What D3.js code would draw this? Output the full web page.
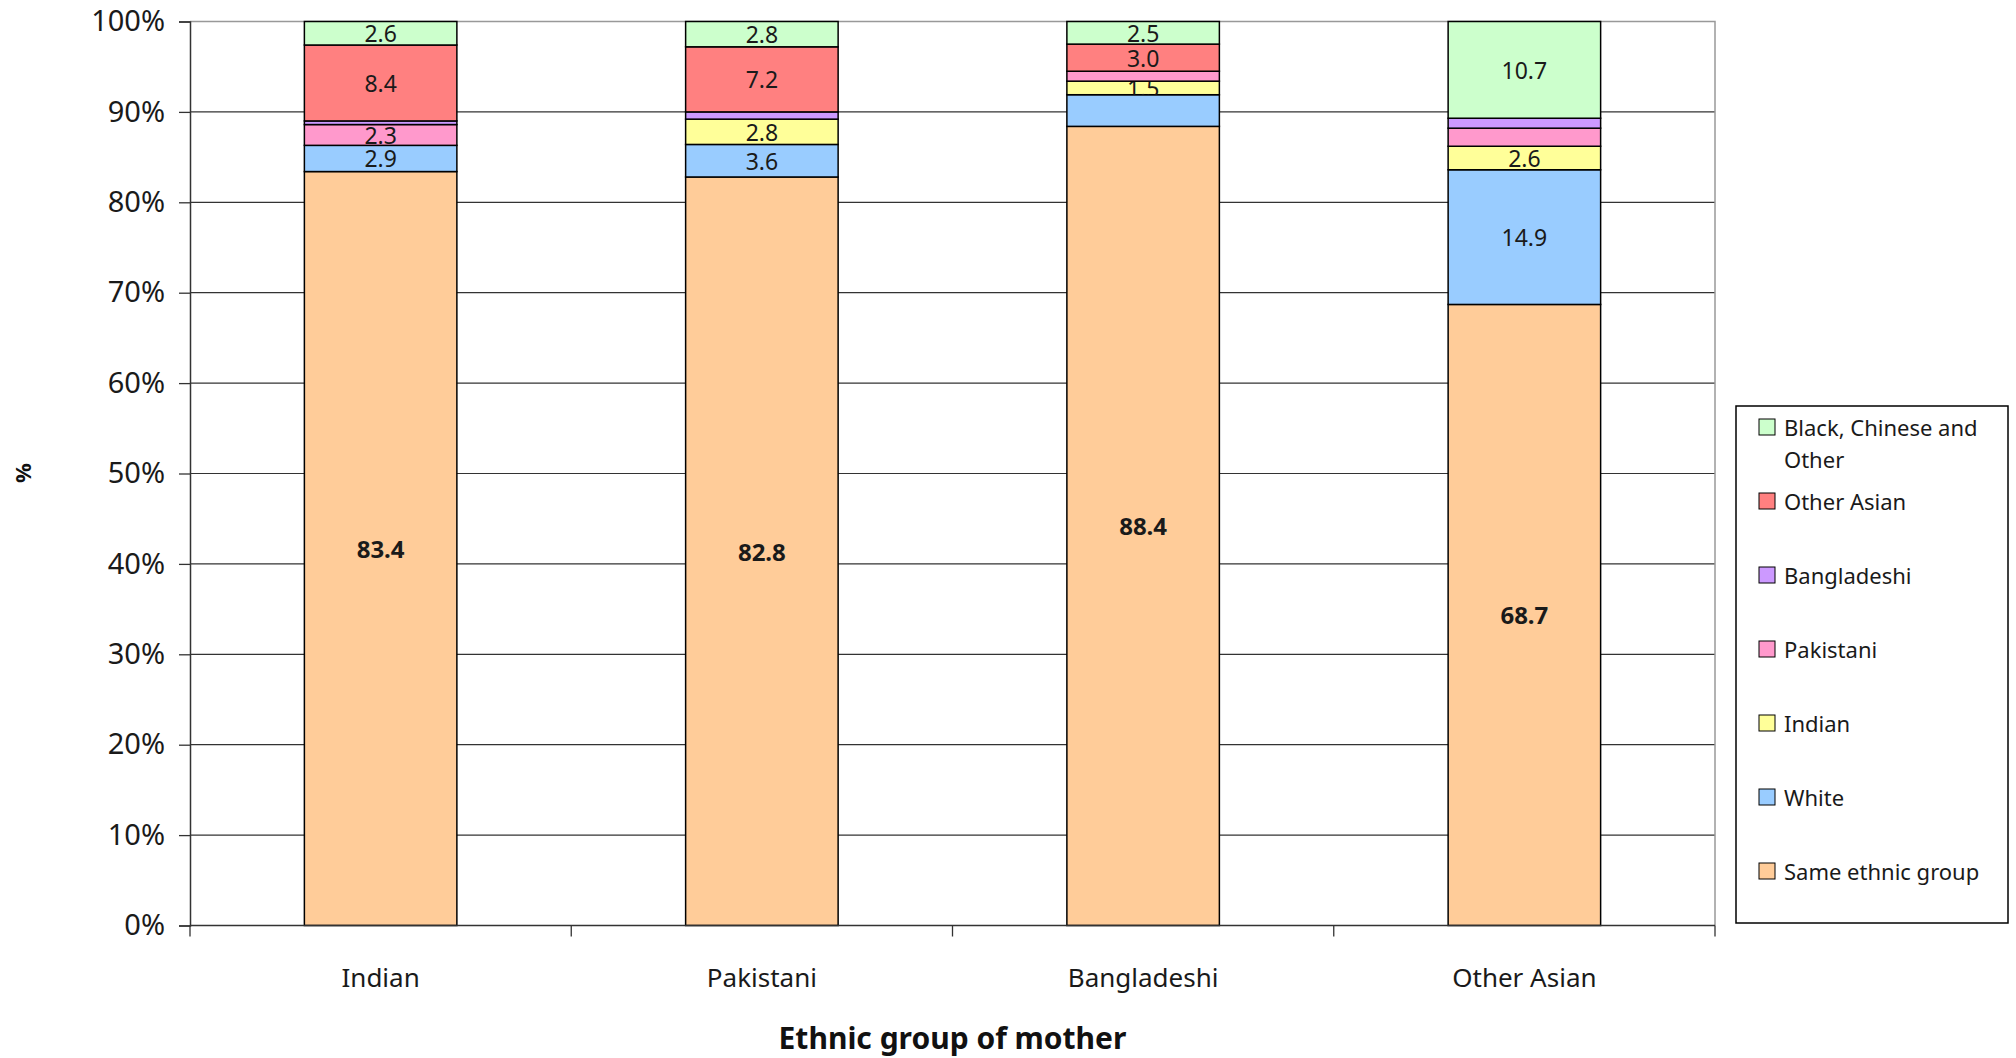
<!DOCTYPE html>
<html>
<head>
<meta charset="utf-8">
<script src="https://cdn.jsdelivr.net/npm/d3@7"></script>
<style>
  html, body { margin: 0; padding: 0; background: #fff; overflow: hidden; }
  svg { display: block; font-family: "Noto Sans", "Open Sans", sans-serif; }
</style>
</head>
<body>
<svg id="chart" width="2016" height="1058" viewBox="0 0 2016 1058"></svg>
<script>
// Ethnic group of mother (x categories)
const groups = ["Indian", "Pakistani", "Bangladeshi", "Other Asian"];

// Ethnic group of father, % of births, per mother group
const sameGroup         = [83.4, 82.8, 88.4, 68.7];
const white             = [2.9, 3.6, 3.5, 14.9];
const indian            = [0, 2.8, 1.5, 2.6];
const pakistani         = [2.3, 0, 1.1, 2.0];
const bangladeshi       = [0.4, 0.8, 0, 1.1];
const otherAsian        = [8.4, 7.2, 3.0, 0];
const blackChineseOther = [2.6, 2.8, 2.5, 10.7];

// Which segments carry a printed value
const shownSame   = [true, true, true, true];
const shownWhite  = [true, true, false, true];
const shownInd    = [false, true, true, true];
const shownPak    = [true, false, false, false];
const shownBang   = [false, false, false, false];
const shownOA     = [true, true, true, false];
const shownBCO    = [true, true, true, true];

const seriesNames = ["Same ethnic group", "White", "Indian", "Pakistani", "Bangladeshi", "Other Asian", "Black, Chinese and Other"];
const seriesValues = [sameGroup, white, indian, pakistani, bangladeshi, otherAsian, blackChineseOther];
const seriesShown = [shownSame, shownWhite, shownInd, shownPak, shownBang, shownOA, shownBCO];
const seriesColors = ["#FFCC99", "#99CCFF", "#FFFF99", "#FF99CC", "#CC99FF", "#FF8080", "#CCFFCC"];

const yTicks = [0, 10, 20, 30, 40, 50, 60, 70, 80, 90, 100];

const svg = d3.select("#chart");
const plot = { left: 190, right: 1715, top: 21.5, bottom: 925.5 };

const x = d3.scaleBand().domain(groups).range([plot.left, plot.right])
  .paddingInner(0.6).paddingOuter(0.3);
const y = d3.scaleLinear().domain([0, 100]).range([plot.bottom, plot.top]);

// Gridlines
svg.append("g").selectAll("line").data(yTicks.filter(d => d > 0 && d < 100)).join("line")
  .attr("x1", plot.left).attr("x2", plot.right)
  .attr("y1", d => y(d)).attr("y2", d => y(d))
  .attr("stroke", "#333").attr("stroke-width", 1.2);

// Plot area border (top and right)
svg.append("path")
  .attr("d", `M${plot.left},${y(100)}H${plot.right}V${y(0)}`)
  .attr("fill", "none").attr("stroke", "#999").attr("stroke-width", 1.5);

// Stack the series
const rows = groups.map((g, i) => {
  const r = { group: g };
  seriesNames.forEach((s, k) => { r[s] = seriesValues[k][i]; });
  return r;
});
const stacked = d3.stack().keys(seriesNames)(rows);

const defs = svg.append("defs");
const barsG = svg.append("g");

stacked.forEach((layer, k) => {
  const lg = barsG.append("g");
  layer.forEach((seg, i) => {
    const v = seriesValues[k][i];
    if (v <= 0) return;
    const x0 = x(groups[i]);
    const w = x.bandwidth();
    const yTop = y(seg[1]);
    const h = y(seg[0]) - y(seg[1]);
    lg.append("rect")
      .attr("x", x0).attr("y", yTop).attr("width", w).attr("height", h)
      .attr("fill", seriesColors[k]).attr("stroke", "#000").attr("stroke-width", 1.5);
    if (seriesShown[k][i]) {
      const id = `clip-${k}-${i}`;
      defs.append("clipPath").attr("id", id).append("rect")
        .attr("x", x0).attr("y", yTop).attr("width", w).attr("height", h);
      const bold = k === 0;
      lg.append("text")
        .attr("clip-path", `url(#${id})`)
        .attr("x", x0 + w / 2).attr("y", y((seg[0] + seg[1]) / 2))
        .attr("text-anchor", "middle").attr("dominant-baseline", "central")
        .attr("font-size", bold ? 24 : 23)
        .attr("font-weight", bold ? "bold" : "normal")
        .attr("fill", "#1a1a1a")
        .text(v.toFixed(1));
    }
  });
});

// Y axis
const yAxis = d3.axisLeft(y).tickValues(yTicks).tickSize(11).tickPadding(14)
  .tickFormat(d => d + "%");
const yg = svg.append("g").attr("transform", `translate(${plot.left},0)`).call(yAxis);
yg.select(".domain").attr("stroke", "#333").attr("stroke-width", 1.5);
yg.selectAll(".tick line").attr("stroke", "#333").attr("stroke-width", 1.3);
yg.selectAll(".tick text").attr("font-size", 29).attr("fill", "#1a1a1a")
  .attr("font-family", "Noto Sans, sans-serif");

// X axis baseline with ticks between categories
const xg = svg.append("g");
xg.append("line").attr("x1", plot.left).attr("x2", plot.right)
  .attr("y1", y(0)).attr("y2", y(0)).attr("stroke", "#333").attr("stroke-width", 1.5);
const bounds = d3.range(groups.length + 1).map(i => plot.left + i * x.step());
xg.selectAll("line.tk").data(bounds).join("line").attr("class", "tk")
  .attr("x1", d => d).attr("x2", d => d)
  .attr("y1", y(0)).attr("y2", y(0) + 11)
  .attr("stroke", "#333").attr("stroke-width", 1.3);
xg.selectAll("text").data(groups).join("text")
  .attr("x", d => x(d) + x.bandwidth() / 2).attr("y", 977)
  .attr("dominant-baseline", "central")
  .attr("text-anchor", "middle").attr("font-size", 26).attr("fill", "#1a1a1a")
  .text(d => d);

// Axis titles
svg.append("text").attr("x", (plot.left + plot.right) / 2).attr("y", 1037)
  .attr("dominant-baseline", "central")
  .attr("text-anchor", "middle").attr("font-size", 30).attr("font-weight", "bold")
  .attr("fill", "#111").text("Ethnic group of mother");
svg.append("text").attr("transform", "translate(22,473) rotate(-90)")
  .attr("text-anchor", "middle").attr("dominant-baseline", "central")
  .attr("font-size", 22).attr("font-weight", "bold").attr("fill", "#111").text("%");

// Legend (top entry first)
const legend = svg.append("g");
legend.append("rect").attr("x", 1736).attr("y", 406).attr("width", 272).attr("height", 517)
  .attr("fill", "#fff").attr("stroke", "#000").attr("stroke-width", 1.5);
const legendOrder = d3.range(seriesNames.length).reverse();
legendOrder.forEach((k, j) => {
  const cy = 427 + j * 74;
  legend.append("rect").attr("x", 1759).attr("y", cy - 8).attr("width", 16).attr("height", 16)
    .attr("fill", seriesColors[k]).attr("stroke", "#000").attr("stroke-width", 1);
  const t = legend.append("text").attr("x", 1784).attr("y", cy)
    .attr("dominant-baseline", "central").attr("font-size", 22).attr("fill", "#1a1a1a");
  const name = seriesNames[k];
  if (name === "Black, Chinese and Other") {
    t.append("tspan").attr("x", 1784).text("Black, Chinese and");
    t.append("tspan").attr("x", 1784).attr("dy", 32).text("Other");
  } else {
    t.text(name);
  }
});
</script>
</body>
</html>
